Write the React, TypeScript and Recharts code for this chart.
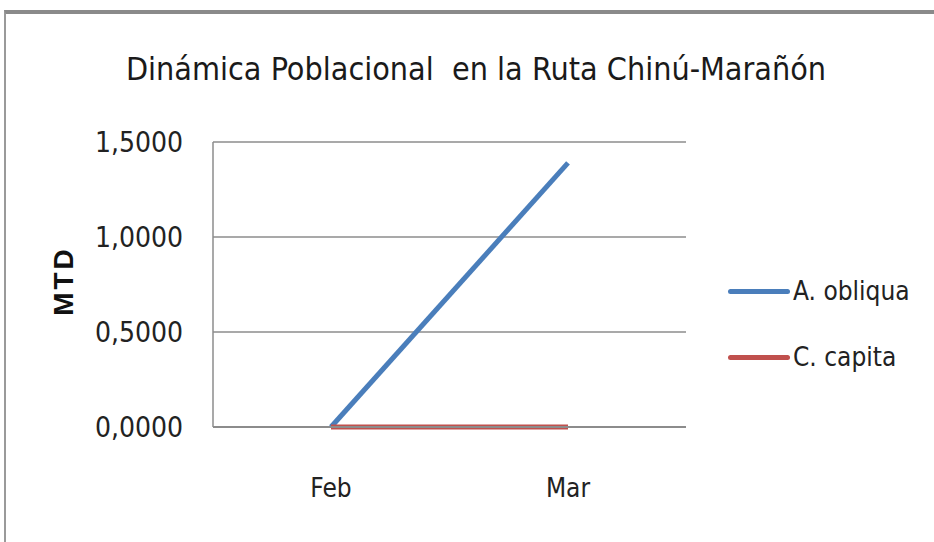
import { LineChart, Line, XAxis, YAxis, CartesianGrid } from 'recharts'

const months = ['Feb', 'Mar']
const obliqua = [0, 1.39]
const capita = [0, 0]
const yTicks = [0, 0.5, 1, 1.5]

const series = [
  { name: 'A. obliqua', color: '#4a7ebb', values: obliqua },
  { name: 'C. capita', color: '#c0504d', values: capita },
]

const chartData = months.map((m, i) => {
  const row: any = { month: m }
  series.forEach((s) => (row[s.name] = s.values[i]))
  return row
})

const FONT = '"Liberation Sans Narrow", "DejaVu Sans Condensed", "Liberation Sans", sans-serif'
const GRID = '#8c8c8c'

const fmt = (v: number) => v.toFixed(4).replace('.', ',')

export default function App() {
  return (
    <div style={{ position: 'absolute', left: 0, top: 0, width: 934, height: 542, background: '#fff', overflow: 'hidden' }}>
      <div
        style={{
          position: 'absolute',
          left: 4,
          top: 10,
          width: 960,
          height: 560,
          borderTop: '4px solid #8a8a8a',
          borderLeft: '2px solid #9a9a9a',
        }}
      />
      <div
        style={{
          position: 'absolute',
          left: 0,
          top: 50,
          width: 952,
          textAlign: 'center',
          fontFamily: FONT,
          fontSize: 32,
          color: '#1a1a1a',
          whiteSpace: 'pre',
        }}
      >
        {'Dinámica Poblacional  en la Ruta Chinú-Marañón'}
      </div>
      <div
        style={{
          position: 'absolute',
          left: 64,
          top: 281,
          transform: 'translate(-50%, -50%) rotate(-90deg)',
          fontFamily: '"Liberation Sans", Arial, sans-serif',
          fontWeight: 'bold',
          fontSize: 28,
          letterSpacing: 3,
          color: '#111',
        }}
      >
        MTD
      </div>
      <div style={{ position: 'absolute', left: 728, top: 258, fontFamily: FONT }}>
        {series.map((s) => (
          <div key={s.name} style={{ display: 'flex', alignItems: 'center', height: 66 }}>
            <div style={{ width: 62, height: 5, background: s.color, borderRadius: 3 }} />
            <span style={{ fontSize: 26, color: '#222', marginLeft: 3 }}>{s.name}</span>
          </div>
        ))}
      </div>
      <LineChart
        width={934}
        height={542}
        data={chartData}
        margin={{ top: 142, right: 248, bottom: 85, left: 0 }}
        style={{ position: 'absolute', left: 0, top: 0 }}
      >
        <CartesianGrid vertical={false} stroke={GRID} strokeWidth={1.5} />
        <XAxis
          dataKey="month"
          padding={{ left: 118, right: 118 }}
          tickLine={false}
          axisLine={{ stroke: GRID, strokeWidth: 2 }}
          tickMargin={46}
          tick={{ fontFamily: FONT, fontSize: 26, fill: '#222' }}
        />
        <YAxis
          width={213}
          domain={[0, 1.5]}
          ticks={yTicks}
          tickFormatter={fmt}
          tickLine={false}
          tickSize={0}
          tickMargin={30}
          axisLine={{ stroke: GRID, strokeWidth: 1.5 }}
          tick={{ fontFamily: FONT, fontSize: 28, fill: '#222' }}
        />
        {series.map((s) => (
          <Line
            key={s.name}
            dataKey={s.name}
            stroke={s.color}
            strokeWidth={5}
            dot={false}
            isAnimationActive={false}
          />
        ))}
      </LineChart>
    </div>
  )
}
